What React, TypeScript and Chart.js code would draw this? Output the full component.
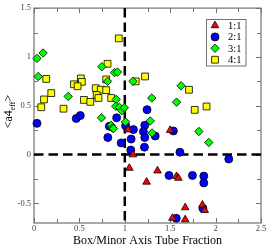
import React, { useEffect, useRef } from "react";
import { Chart, registerables } from "chart.js";
import { drawPoint } from "chart.js/helpers";

Chart.register(...registerables);

const seriesLabels = ["1:1", "2:1", "3:1", "4:1"];
const seriesColors = ["#ff0000", "#0000ff", "#00ff00", "#ffff00"];
const seriesStyles = ["triangle", "circle", "rectRot", "rect"];
const seriesRadius = [4.4, 4, 4.2, 4.8];
const seriesOrder = [0, 2, 1, 3];

const ratio11X = [1.036, 1.5, 1.09, 1.05, 1.36, 1.24, 1.57, 1.59, 1.665, 1.855, 1.88, 1.525, 1.665];
const ratio11Y = [0.255, 0.25, 0.0, -0.138, -0.165, -0.28, -0.222, -0.24, -0.542, -0.515, -0.57, -0.65, -0.665];

const ratio21X = [0.033, 0.465, 0.51, 0.91, 1.01, 1.245, 1.22, 0.83, 1.095, 1.205, 1.335, 1.22, 0.813, 1.07, 0.96, 1.216, 1.066, 1.607, 2.145, 1.487, 1.745, 1.87, 1.87, 1.86, 1.567, 1.535];
const ratio21Y = [0.32, 0.37, 0.4, 0.377, 0.295, 0.46, 0.3, 0.29, 0.256, 0.235, 0.19, 0.175, 0.175, 0.159, 0.12, 0.076, 0.047, 0.025, -0.045, -0.213, -0.213, -0.22, -0.29, -0.549, -0.652, 0.242];

const ratio31X = [0.033, 0.1, 0.047, 0.377, 0.747, 0.886, 0.92, 0.81, 1.09, 0.905, 0.9, 0.94, 0.967, 0.995, 0.743, 1.007, 0.85, 0.864, 0.875, 1.62, 1.297, 1.57, 1.28, 1.3, 1.816, 1.925];
const ratio31Y = [0.985, 1.04, 0.8, 0.596, 0.9, 0.84, 0.845, 0.75, 0.75, 0.565, 0.495, 0.485, 0.45, 0.48, 0.377, 0.335, 0.3, 0.273, 0.266, 0.705, 0.58, 0.537, 0.345, 0.222, 0.237, 0.124];

const ratio41X = [0.934, 0.81, 0.135, 0.516, 0.527, 0.44, 0.48, 0.795, 0.19, 0.11, 0.08, 0.325, 0.55, 0.62, 0.68, 0.735, 0.795, 0.69, 0.71, 0.85, 1.223, 1.12, 1.707, 1.77, 1.9];
const ratio41Y = [1.19, 0.93, 0.775, 0.78, 0.745, 0.72, 0.7, 0.77, 0.63, 0.565, 0.485, 0.47, 0.56, 0.54, 0.68, 0.665, 0.66, 0.61, 0.58, 0.58, 0.8, 0.75, 0.664, 0.458, 0.493];

const seriesX = [ratio11X, ratio21X, ratio31X, ratio41X];
const seriesY = [ratio11Y, ratio21Y, ratio31Y, ratio41Y];

const xMin = 0, xMax = 2.5, yMin = -0.7, yMax = 1.5;
const minorStep = 0.25;
const xTitle = "Box/Minor Axis Tube Fraction";
const yTitleMain = "<a4";
const yTitleSub = "eff";
const yTitleEnd = ">";

const SERIF = "'Liberation Serif', 'DejaVu Serif', serif";

const fmt = (v: number) => {
  const r = Math.round(v * 100) / 100;
  if (Math.abs(r * 2 - Math.round(r * 2)) > 1e-6) return "";
  return String(r);
};

const decorPlugin = {
  id: "decor",
  beforeDatasetsDraw(chart: any) {
    const { ctx, chartArea: a, scales } = chart;
    const xs = scales.x, ys = scales.y;
    ctx.save();
    ctx.strokeStyle = "#707070";
    ctx.lineWidth = 1.2;
    ctx.setLineDash([]);
    ctx.strokeRect(a.left, a.top, a.right - a.left, a.bottom - a.top);
    ctx.lineWidth = 1;
    ctx.beginPath();
    for (let v = xMin; v <= xMax + 1e-9; v += minorStep) {
      const p = Math.round(xs.getPixelForValue(v)) + 0.5;
      const major = Math.abs(v * 2 - Math.round(v * 2)) < 1e-6;
      const len = major ? 5 : 4;
      ctx.moveTo(p, a.bottom); ctx.lineTo(p, a.bottom - len);
      ctx.moveTo(p, a.top); ctx.lineTo(p, a.top + len);
    }
    for (let v = Math.ceil(yMin / minorStep) * minorStep; v <= yMax + 1e-9; v += minorStep) {
      const p = Math.round(ys.getPixelForValue(v)) + 0.5;
      const major = Math.abs(v * 2 - Math.round(v * 2)) < 1e-6;
      const len = major ? 5 : 4;
      ctx.moveTo(a.left, p); ctx.lineTo(a.left + len, p);
      ctx.moveTo(a.right, p); ctx.lineTo(a.right - len, p);
    }
    ctx.stroke();
    ctx.strokeStyle = "#000";
    ctx.lineWidth = 2.5;
    ctx.setLineDash([9.5, 5]);
    const x1 = xs.getPixelForValue(1);
    ctx.beginPath(); ctx.moveTo(x1, a.top); ctx.lineTo(x1, a.bottom); ctx.stroke();
    const y0 = ys.getPixelForValue(0);
    ctx.beginPath(); ctx.moveTo(a.left, y0); ctx.lineTo(a.right, y0); ctx.stroke();
    ctx.restore();
  },
  afterDraw(chart: any) {
    const { ctx, chartArea: a } = chart;
    ctx.save();
    ctx.setLineDash([]);
    ctx.fillStyle = "#000";
    ctx.font = `12px ${SERIF}`;
    ctx.textAlign = "center";
    ctx.textBaseline = "alphabetic";
    ctx.fillText(xTitle, (a.left + a.right) / 2, 243.5);
    ctx.save();
    ctx.translate(12, (a.top + a.bottom) / 2 - 4);
    ctx.rotate(-Math.PI / 2);
    const mainFont = `12px ${SERIF}`;
    const subFont = `8px ${SERIF}`;
    ctx.font = mainFont;
    const w1 = ctx.measureText(yTitleMain).width;
    const w3 = ctx.measureText(yTitleEnd).width;
    ctx.font = subFont;
    const w2 = ctx.measureText(yTitleSub).width;
    let cx = -(w1 + w2 + w3) / 2;
    ctx.textAlign = "left";
    ctx.font = mainFont;
    ctx.fillText(yTitleMain, cx, 0);
    cx += w1;
    ctx.font = subFont;
    ctx.fillText(yTitleSub, cx, 3);
    cx += w2;
    ctx.font = mainFont;
    ctx.fillText(yTitleEnd, cx, 0);
    ctx.restore();
    const bx = 206.5, by = 19.5, bw = 39.5, bh = 46.5;
    ctx.fillStyle = "#fff";
    ctx.fillRect(bx, by, bw, bh);
    ctx.strokeStyle = "#707070";
    ctx.lineWidth = 1;
    ctx.strokeRect(bx, by, bw, bh);
    chart.data.datasets.forEach((ds: any, i: number) => {
      const ry = 25.5 + i * 11.4;
      ctx.fillStyle = ds.backgroundColor;
      ctx.strokeStyle = ds.borderColor;
      ctx.lineWidth = ds.borderWidth;
      drawPoint(ctx, { pointStyle: ds.pointStyle, radius: ds.pointRadius, rotation: 0, borderWidth: ds.borderWidth }, 215, ry);
      ctx.fillStyle = "#000";
      ctx.font = `10.5px ${SERIF}`;
      ctx.textAlign = "left";
      ctx.textBaseline = "middle";
      ctx.fillText(ds.label, 228, ry + 0.5);
    });
    ctx.restore();
  },
};

export default function App() {
  const ref = useRef<HTMLCanvasElement | null>(null);
  useEffect(() => {
    if (!ref.current) return;
    const datasets = seriesLabels.map((label, i) => ({
      label,
      data: seriesX[i].map((x, j) => ({ x, y: seriesY[i][j] })),
      pointStyle: seriesStyles[i],
      backgroundColor: seriesColors[i],
      borderColor: "#000",
      borderWidth: 0.8,
      pointRadius: seriesRadius[i],
      showLine: false,
      order: seriesOrder[i],
      clip: false as any,
    }));
    const chart = new Chart(ref.current, {
      type: "scatter",
      data: { datasets },
      options: {
        animation: false,
        responsive: false,
        maintainAspectRatio: false,
        devicePixelRatio: 1,
        layout: { padding: { top: 5, right: 7, left: 0, bottom: 0 } },
        plugins: { legend: { display: false }, tooltip: { enabled: false } },
        scales: {
          x: {
            type: "linear",
            min: xMin,
            max: xMax,
            grid: { display: false, drawTicks: false },
            border: { display: false },
            ticks: {
              stepSize: minorStep,
              autoSkip: false,
              maxRotation: 0,
              padding: 1,
              color: "#444",
              font: { family: SERIF, size: 8.5 },
              callback: (v: any) => fmt(Number(v)),
            },
            afterFit: (s: any) => { s.height = 22; },
          },
          y: {
            type: "linear",
            min: yMin,
            max: yMax,
            grid: { display: false, drawTicks: false },
            border: { display: false },
            ticks: {
              stepSize: minorStep,
              autoSkip: false,
              padding: 3,
              color: "#444",
              font: { family: SERIF, size: 8.5 },
              callback: (v: any) => fmt(Number(v)),
            },
            afterFit: (s: any) => { s.width = 34; },
          },
        },
      },
      plugins: [decorPlugin],
    });
    return () => chart.destroy();
  }, []);
  return (
    <div style={{ position: "fixed", left: 0, top: 0, width: 268, height: 245, background: "#fff" }}>
      <canvas ref={ref} width={268} height={245} style={{ width: 268, height: 245, display: "block" }} />
    </div>
  );
}
